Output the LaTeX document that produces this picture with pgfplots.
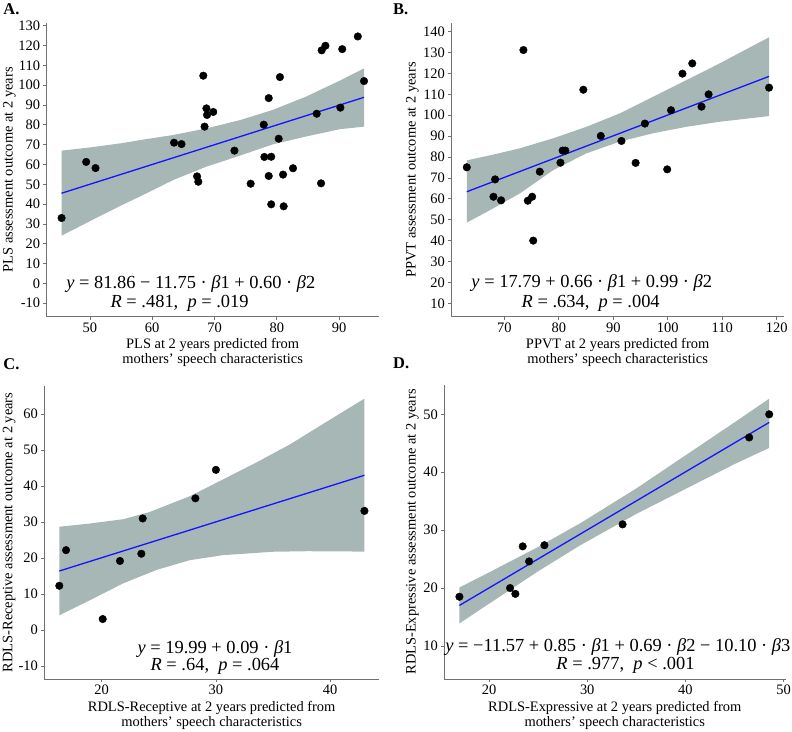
\documentclass[border=0pt]{standalone}
\usepackage{fontspec}
\setmainfont{Liberation Serif}
\usepackage{pgfplots}
\pgfplotsset{compat=1.18}
\definecolor{band}{RGB}{167,183,181}
\definecolor{axgray}{RGB}{112,112,112}
\definecolor{fitblue}{RGB}{20,20,255}
\newcommand{\eqfont}{\fontsize{18.5}{20}\selectfont}
\newcommand{\lblfont}{\fontsize{14.5}{15}\selectfont}
\newcommand{\sq}{{\char"0027}}
\pgfplotsset{
  panel/.style={
    scale only axis,
    axis lines=left,
    axis line style={-, axgray, line width=0.9bp},
    tick style={axgray, line width=0.8bp},
    tick align=outside,
    major tick length=3bp,
    /pgf/number format/assume math mode=true,
    tick label style={font=\lblfont, black},
    yticklabel style={inner xsep=3bp},
    xticklabel style={inner ysep=3bp},
    xlabel style={at={(axis description cs:0.5,0)}, anchor=north, yshift=-21.7bp, inner sep=0pt, align=center, font=\lblfont},
    ylabel style={anchor=center, inner sep=0pt, font=\lblfont},
    clip=false,
  },
  scat/.style={only marks, mark=*, mark size=3.8bp, black},
  fitl/.style={fitblue, line width=1.3bp, no marks},
  bandf/.style={fill=band, draw=none, no marks},
}
\begin{document}
\begin{tikzpicture}
\useasboundingbox (0bp,0bp) rectangle (792bp,732bp);
\node[anchor=base west, font=\fontsize{16.5}{18}\selectfont\bfseries, inner sep=0pt] at (3.3bp,717bp) {A.};
\node[anchor=base west, font=\fontsize{16.5}{18}\selectfont\bfseries, inner sep=0pt] at (393bp,717bp) {B.};
\node[anchor=base west, font=\fontsize{16.5}{18}\selectfont\bfseries, inner sep=0pt] at (3.3bp,362.5bp) {C.};
\node[anchor=base west, font=\fontsize{16.5}{18}\selectfont\bfseries, inner sep=0pt] at (393bp,363bp) {D.};

% ---------------- Panel A ----------------
\begin{axis}[panel, at={(46.3bp,415.3bp)}, anchor=south west, width=332.7bp, height=293.7bp,
  xmin=43.0, xmax=96.4, ymin=-16.8, ymax=131.4,
  xtick={50,60,70,80,90}, ytick={-10,0,10,20,30,40,50,60,70,80,90,100,110,120,130},
  xlabel={PLS at 2 years predicted from\\mothers\sq{} speech characteristics},
  ylabel={PLS assessment outcome at 2 years},
  ylabel style={at={(axis description cs:-0.1106,0.5)}}]
\addplot[bandf] coordinates {(45.45,67.0) (50,68.6) (55,70.7) (58,72.3) (63.4,74.9) (68.7,78.2) (74.1,82.4) (79.4,87.6) (84.8,94.4) (90.1,102.3) (94.0,108.5)
  (94.0,79.1) (90.1,77.8) (84.8,74.2) (79.4,70.2) (74.1,64.5) (68.7,58.9) (63.4,52.2) (58,43.8) (55,39.3) (50,31.4) (45.45,24.1)};
\addplot[fitl] coordinates {(45.45,45.5) (94.0,93.9)};
\addplot[scat] coordinates {(45.45,33.0) (49.4,61.3) (50.9,58.2) (63.5,71.0) (64.7,70.3) (67.2,54.0) (67.4,51.3) (68.2,104.8) (68.4,79.1) (68.7,88.3) (68.8,85.0) (69.8,86.5) (73.2,67.0) (75.8,50.3) (77.9,80.1) (78.0,63.8) (78.7,93.5) (78.7,54.2) (79.1,63.9) (79.1,39.9) (80.3,73.0) (80.5,104.1) (81.0,54.9) (81.1,38.9) (82.6,58.1) (86.4,85.6) (87.1,50.5) (87.2,117.6) (87.8,119.9) (90.2,88.7) (90.5,118.2) (93.0,124.6) (94.0,102.1)};
\node[anchor=base, font=\eqfont, inner sep=0pt] at (axis cs:66.2,-2.6) {\textit{y} = 81.86 − 11.75 · \textit{β}1 + 0.60 · \textit{β}2};
\node[anchor=base, font=\eqfont, inner sep=0pt] at (axis cs:64.4,-12.0) {\textit{R} = .481,\enspace\textit{p} = .019};
\end{axis}

% ---------------- Panel B ----------------
\begin{axis}[panel, at={(451bp,415.3bp)}, anchor=south west, width=333.3bp, height=293.4bp,
  xmin=60.2, xmax=121.4, ymin=3.6, ymax=144.0,
  xtick={70,80,90,100,110,120}, ytick={10,20,30,40,50,60,70,80,90,100,110,120,130,140},
  xlabel={PPVT at 2 years predicted from\\mothers\sq{} speech characteristics},
  ylabel={PPVT assessment outcome at 2 years},
  ylabel style={at={(axis description cs:-0.1155,0.5)}}]
\addplot[bandf] coordinates {(63.1,78.4) (68,81.2) (72.88,84.2) (79.0,89.0) (85.1,94.5) (91.2,100.9) (97.35,108.9) (103.5,116.9) (109.6,124.9) (114,131) (118.6,137.3)
  (118.6,99.6) (109.6,96.9) (103.5,94.5) (97.35,91.4) (91.2,87.4) (85.1,81.8) (79.0,73.8) (72.88,62.65) (68,55.5) (63.1,48.6)};
\addplot[fitl] coordinates {(63.1,63.4) (118.6,118.6)};
\addplot[scat] coordinates {(63.1,75.1) (68.0,61.0) (68.3,69.3) (69.4,59.3) (73.5,131.2) (74.3,59.1) (75.1,61.0) (75.3,40.0) (76.5,73.0) (80.3,77.3) (80.7,83.1) (81.2,83.1) (84.5,112.2) (87.7,90.1) (91.5,87.7) (94.1,77.2) (95.8,96.0) (99.9,74.1) (100.6,102.4) (102.7,119.9) (104.5,124.8) (106.2,104.1) (107.5,110.0) (118.6,113.2)};
\node[anchor=base, font=\eqfont, inner sep=0pt] at (axis cs:86.04,17.7) {\textit{y} = 17.79 + 0.66 · \textit{β}1 + 0.99 · \textit{β}2};
\node[anchor=base, font=\eqfont, inner sep=0pt] at (axis cs:85.85,8.1) {\textit{R} = .634,\enspace\textit{p} = .004};
\end{axis}

% ---------------- Panel C ----------------
\begin{axis}[panel, at={(44bp,53bp)}, anchor=south west, width=335.3bp, height=293bp,
  xmin=14.95, xmax=44.3, ymin=-13.6, ymax=67.8,
  xtick={20,30,40}, ytick={-10,0,10,20,30,40,50,60},
  xlabel={RDLS-Receptive at 2 years predicted from\\mothers\sq{} speech characteristics},
  ylabel={RDLS-Receptive assessment outcome at 2 years},
  ylabel style={at={(axis description cs:-0.1038,0.5)}}]
\addplot[bandf] coordinates {(16.29,28.7) (18.98,29.6) (21.9,30.8) (24.2,32.8) (27.73,37.2) (30.65,41.9) (33.57,46.6) (36.49,51.6) (39.4,57.3) (43.0,64.3)
  (43.0,21.8) (38.0,21.9) (35.0,21.75) (30.6,20.8) (27.7,19.4) (24.8,16.7) (21.9,13.0) (18.98,8.3) (16.29,4.1)};
\addplot[fitl] coordinates {(16.29,16.4) (43.0,43.0)};
\addplot[scat] coordinates {(16.29,12.3) (16.88,22.2) (20.09,3.06) (21.6,19.2) (23.47,21.2) (23.59,31.0) (28.2,36.6) (30.0,44.5) (43.0,33.1)};
\node[anchor=base, font=\eqfont, inner sep=0pt] at (axis cs:29.92,-6.5) {\textit{y} = 19.99 + 0.09 · \textit{β}1};
\node[anchor=base, font=\eqfont, inner sep=0pt] at (axis cs:29.92,-11.1) {\textit{R} = .64,\enspace\textit{p} = .064};
\end{axis}

% ---------------- Panel D ----------------
\begin{axis}[panel, at={(444bp,53bp)}, anchor=south west, width=341.5bp, height=294bp,
  xmin=15.41, xmax=50.2, ymin=4.3, ymax=55.06,
  xtick={20,30,40,50}, ytick={10,20,30,40,50},
  xlabel={RDLS-Expressive at 2 years predicted from\\mothers\sq{} speech characteristics},
  ylabel={RDLS-Expressive assessment outcome at 2 years},
  ylabel style={at={(axis description cs:-0.0922,0.5)}}]
\addplot[bandf] coordinates {(16.98,20.1) (20,22.7) (25,27.1) (29.3,31.2) (35,37.2) (40,42.9) (45,48.6) (48.54,52.7)
  (48.54,44.2) (45,41.4) (40,37.1) (35,32.8) (29.3,27.4) (25,22.9) (20,17.3) (16.98,13.9)};
\addplot[fitl] coordinates {(16.98,17.0) (48.54,48.6)};
\addplot[scat] coordinates {(16.98,18.5) (22.14,20.0) (22.68,19.0) (23.43,27.2) (24.08,24.6) (25.64,27.4) (33.6,31.0) (46.5,46.0) (48.54,50.0)};
\node[anchor=base, font=\eqfont, inner sep=0pt] at (axis cs:33.12,9.0) {\textit{y} = −11.57 + 0.85 · \textit{β}1 + 0.69 · \textit{β}2 − 10.10 · \textit{β}3};
\node[anchor=base, font=\eqfont, inner sep=0pt] at (axis cs:33.9,5.9) {\textit{R} = .977,\enspace\textit{p} < .001};
\end{axis}
\end{tikzpicture}
\end{document}
